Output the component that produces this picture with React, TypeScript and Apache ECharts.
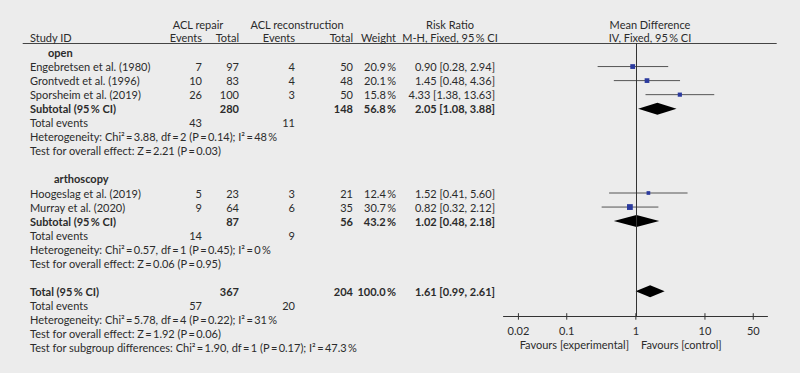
import React, { useEffect, useRef } from "react";
import * as echarts from "echarts";

// ---------- data ----------
const studyNames = [
  "Engebretsen et al. (1980)",
  "Grontvedt et al. (1996)",
  "Sporsheim et al. (2019)",
  "Hoogeslag et al. (2019)",
  "Murray et al. (2020)",
];
const studyRows = [1, 2, 3, 10, 11];
const repairEvents = [7, 10, 26, 5, 9];
const repairTotal = [97, 83, 100, 23, 64];
const reconEvents = [4, 4, 3, 3, 6];
const reconTotal = [50, 48, 50, 21, 35];
const weights = [20.9, 20.1, 15.8, 12.4, 30.7];
const rr = [0.9, 1.45, 4.33, 1.52, 0.82];
const rrLo = [0.28, 0.48, 1.38, 0.41, 0.32];
const rrHi = [2.94, 4.36, 13.63, 5.6, 2.12];

const groupNames = ["open", "arthoscopy"];
const groupRows = [0, 9];
const subRows = [4, 12];
const subRepairTotal = [280, 87];
const subReconTotal = [148, 56];
const subRepairEvents = [43, 14];
const subReconEvents = [11, 9];
const subWeight = [56.8, 43.2];
const subRR = [2.05, 1.02];
const subLo = [1.08, 0.48];
const subHi = [3.88, 2.18];
const E = "\u2009=\u2009";
const subHet = [
  `Heterogeneity: Chi²${E}3.88, df${E}2 (P${E}0.14); I²${E}48\u2009%`,
  `Heterogeneity: Chi²${E}0.57, df${E}1 (P${E}0.45); I²${E}0\u2009%`,
];
const subEffect = [
  `Test for overall effect: Z${E}2.21 (P${E}0.03)`,
  `Test for overall effect: Z${E}0.06 (P${E}0.95)`,
];

const totalRow = 17;
const totalRepair = 367;
const totalRecon = 204;
const totalRepairEvents = 57;
const totalReconEvents = 20;
const totalWeight = 100.0;
const totalRR = 1.61;
const totalLo = 0.99;
const totalHi = 2.61;
const totalNotes = [
  `Heterogeneity: Chi²${E}5.78, df${E}4 (P${E}0.22); I²${E}31\u2009%`,
  `Test for overall effect: Z${E}1.92 (P${E}0.06)`,
  `Test for subgroup differences: Chi²${E}1.90, df${E}1 (P${E}0.17); I²${E}47.3\u2009%`,
];

const tickValues = [0.02, 0.1, 1, 10, 50];
const tickLabels = ["0.02", "0.1", "1", "10", "50"];

// ---------- layout ----------
const FONT = "Lato, 'Liberation Sans', sans-serif";
const FS = 11;
const TXT = "#2b2b2b";
const ROW0 = 52.5;
const ROWH = 14.05;
const rowAt = (px: number) => (px - ROW0) / ROWH;
const HEAD1 = rowAt(24);
const HEAD2 = rowAt(37);

const col = {
  study: 30,
  group: [48, 54],
  repEv: 202,
  repTot: 239,
  recEv: 295,
  recTot: 353,
  weight: 396,
  rr: 495,
  rrHead: 450,
  mdHead: 650,
};

type Cell = { x: number; r: number; t: string; align: string; bold?: boolean };
const pct = (w: number) => `${w.toFixed(1)}\u2009%`;
const ci = (a: number, b: number, c: number) =>
  `${a.toFixed(2)} [${b.toFixed(2)}, ${c.toFixed(2)}]`;

const cells: Cell[] = [];
cells.push({ x: 198, r: HEAD1, t: "ACL repair", align: "center" });
cells.push({ x: 297, r: HEAD1, t: "ACL reconstruction", align: "center" });
cells.push({ x: col.rrHead, r: HEAD1, t: "Risk Ratio", align: "center" });
cells.push({ x: col.mdHead, r: HEAD1, t: "Mean Difference", align: "center" });
cells.push({ x: col.study, r: HEAD2, t: "Study ID", align: "left" });
cells.push({ x: col.repEv, r: HEAD2, t: "Events", align: "right" });
cells.push({ x: col.repTot, r: HEAD2, t: "Total", align: "right" });
cells.push({ x: col.recEv, r: HEAD2, t: "Events", align: "right" });
cells.push({ x: col.recTot, r: HEAD2, t: "Total", align: "right" });
cells.push({ x: col.weight, r: HEAD2, t: "Weight", align: "right" });
cells.push({ x: col.rrHead, r: HEAD2, t: "M-H, Fixed, 95\u2009% CI", align: "center" });
cells.push({ x: col.mdHead, r: HEAD2, t: "IV, Fixed, 95\u2009% CI", align: "center" });

studyNames.forEach((n, i) => {
  const r = studyRows[i];
  cells.push({ x: col.study, r, t: n, align: "left" });
  cells.push({ x: col.repEv, r, t: String(repairEvents[i]), align: "right" });
  cells.push({ x: col.repTot, r, t: String(repairTotal[i]), align: "right" });
  cells.push({ x: col.recEv, r, t: String(reconEvents[i]), align: "right" });
  cells.push({ x: col.recTot, r, t: String(reconTotal[i]), align: "right" });
  cells.push({ x: col.weight, r, t: pct(weights[i]), align: "right" });
  cells.push({ x: col.rr, r, t: ci(rr[i], rrLo[i], rrHi[i]), align: "right" });
});

groupNames.forEach((g, i) => {
  const r = subRows[i];
  cells.push({ x: col.group[i], r: groupRows[i], t: g, align: "left", bold: true });
  cells.push({ x: col.study, r, t: "Subtotal (95\u2009% CI)", align: "left", bold: true });
  cells.push({ x: col.repTot, r, t: String(subRepairTotal[i]), align: "right", bold: true });
  cells.push({ x: col.recTot, r, t: String(subReconTotal[i]), align: "right", bold: true });
  cells.push({ x: col.weight, r, t: pct(subWeight[i]), align: "right", bold: true });
  cells.push({ x: col.rr, r, t: ci(subRR[i], subLo[i], subHi[i]), align: "right", bold: true });
  cells.push({ x: col.study, r: r + 1, t: "Total events", align: "left" });
  cells.push({ x: col.repEv, r: r + 1, t: String(subRepairEvents[i]), align: "right" });
  cells.push({ x: col.recEv, r: r + 1, t: String(subReconEvents[i]), align: "right" });
  cells.push({ x: col.study, r: r + 2, t: subHet[i], align: "left" });
  cells.push({ x: col.study, r: r + 3, t: subEffect[i], align: "left" });
});

cells.push({ x: col.study, r: totalRow, t: "Total (95\u2009% CI)", align: "left", bold: true });
cells.push({ x: col.repTot, r: totalRow, t: String(totalRepair), align: "right", bold: true });
cells.push({ x: col.recTot, r: totalRow, t: String(totalRecon), align: "right", bold: true });
cells.push({ x: col.weight, r: totalRow, t: pct(totalWeight), align: "right", bold: true });
cells.push({ x: col.rr, r: totalRow, t: ci(totalRR, totalLo, totalHi), align: "right", bold: true });
cells.push({ x: col.study, r: totalRow + 1, t: "Total events", align: "left" });
cells.push({ x: col.repEv, r: totalRow + 1, t: String(totalRepairEvents), align: "right" });
cells.push({ x: col.recEv, r: totalRow + 1, t: String(totalReconEvents), align: "right" });
totalNotes.forEach((n, i) =>
  cells.push({ x: col.study, r: totalRow + 2 + i, t: n, align: "left" })
);

const forestTop = 43;
const forestBottom = 316.7;
const yMinB = rowAt(forestTop);
const yMaxB = rowAt(forestBottom);
const log = (v: number) => Math.log10(v);
const tickLogs = tickValues.map(log);

const font = (bold?: boolean) => `${bold ? "bold " : ""}${FS}px ${FONT}`;

const option: any = {
  animation: false,
  backgroundColor: "#ececec",
  grid: [
    { left: 0, top: 0, width: 800, height: 373 },
    { left: 503.5, top: forestTop, width: 264, height: forestBottom - forestTop },
  ],
  xAxis: [
    { gridIndex: 0, type: "value", min: 0, max: 800, show: false },
    {
      gridIndex: 1,
      type: "value",
      min: -1.915,
      max: 1.905,
      axisLine: { show: true, onZero: false, lineStyle: { color: "#333", width: 1 } },
      axisTick: { show: false },
      splitLine: { show: false },
      axisLabel: {
        customValues: tickLogs,
        margin: 8,
        color: TXT,
        fontFamily: FONT,
        fontSize: FS,
        formatter: (v: number) => {
          const i = tickLogs.findIndex((t) => Math.abs(t - v) < 1e-6);
          return i >= 0 ? tickLabels[i] : "";
        },
      },
    },
  ],
  yAxis: [
    { gridIndex: 0, type: "value", inverse: true, min: rowAt(0), max: rowAt(373), show: false },
    { gridIndex: 1, type: "value", inverse: true, min: yMinB, max: yMaxB, show: false },
  ],
  graphic: [
    {
      type: "line",
      shape: { x1: 22.7, y1: 43.5, x2: 776.7, y2: 43.5 },
      style: { stroke: "#444", lineWidth: 1 },
    },
    {
      type: "text",
      x: 629,
      y: 344.3,
      style: {
        text: "Favours [experimental]",
        font: font(),
        fill: TXT,
        align: "right",
        textAlign: "right",
        verticalAlign: "middle",
        textVerticalAlign: "middle",
      },
    },
    {
      type: "text",
      x: 641,
      y: 344.3,
      style: {
        text: "Favours [control]",
        font: font(),
        fill: TXT,
        align: "left",
        textAlign: "left",
        verticalAlign: "middle",
        textVerticalAlign: "middle",
      },
    },
  ],
  series: [
    {
      type: "custom",
      name: "table",
      xAxisIndex: 0,
      yAxisIndex: 0,
      silent: true,
      data: cells.map((c) => [c.x, c.r]),
      renderItem: (params: any, api: any) => {
        const c = cells[params.dataIndex];
        const p = api.coord([api.value(0), api.value(1)]);
        return {
          type: "text",
          x: p[0],
          y: p[1],
          style: {
            text: c.t,
            font: font(c.bold),
            fill: TXT,
            align: c.align,
            textAlign: c.align,
            verticalAlign: "middle",
            textVerticalAlign: "middle",
          },
        };
      },
    },
    {
      type: "custom",
      name: "studies",
      xAxisIndex: 1,
      yAxisIndex: 1,
      silent: true,
      clip: false,
      data: studyNames.map((_, i) => [log(rr[i]), studyRows[i], log(rrLo[i]), log(rrHi[i]), weights[i]]),
      renderItem: (params: any, api: any) => {
        const y = api.value(1);
        const c = api.coord([api.value(0), y]);
        const l = api.coord([api.value(2), y]);
        const h = api.coord([api.value(3), y]);
        const s = Math.sqrt(api.value(4)) * 1.05;
        return {
          type: "group",
          children: [
            {
              type: "line",
              shape: { x1: l[0], y1: c[1], x2: h[0], y2: c[1] },
              style: { stroke: "#555", lineWidth: 1 },
            },
            {
              type: "rect",
              shape: { x: c[0] - s / 2, y: c[1] - s / 2, width: s, height: s },
              style: { fill: "#2b3a9e" },
            },
          ],
        };
      },
      markLine: {
        silent: true,
        symbol: ["none", "none"],
        label: { show: false },
        lineStyle: { color: "#333", width: 1, type: "solid" },
        data: [{ xAxis: 0 }],
      },
    },
    {
      type: "custom",
      name: "pooled",
      xAxisIndex: 1,
      yAxisIndex: 1,
      silent: true,
      clip: false,
      data: [
        [log(subRR[0]), subRows[0], log(subLo[0]), log(subHi[0])],
        [log(subRR[1]), subRows[1], log(subLo[1]), log(subHi[1])],
        [log(totalRR), totalRow, log(totalLo), log(totalHi)],
      ],
      renderItem: (params: any, api: any) => {
        const y = api.value(1);
        const c = api.coord([api.value(0), y]);
        const l = api.coord([api.value(2), y]);
        const h = api.coord([api.value(3), y]);
        const hh = 6;
        return {
          type: "polygon",
          shape: {
            points: [
              [l[0], c[1]],
              [c[0], c[1] - hh],
              [h[0], c[1]],
              [c[0], c[1] + hh],
            ],
          },
          style: { fill: "#000" },
        };
      },
    },
    {
      type: "custom",
      name: "ticks",
      xAxisIndex: 1,
      yAxisIndex: 1,
      silent: true,
      clip: false,
      data: tickLogs.map((t) => [t, yMaxB]),
      renderItem: (params: any, api: any) => {
        const p = api.coord([api.value(0), api.value(1)]);
        return {
          type: "line",
          shape: { x1: p[0], y1: p[1] - 3.5, x2: p[0], y2: p[1] + 3 },
          style: { stroke: "#333", lineWidth: 1 },
        };
      },
    },
  ],
};

export default function App() {
  const ref = useRef<HTMLDivElement>(null);
  useEffect(() => {
    const chart = echarts.init(ref.current!, null, { renderer: "svg" });
    chart.setOption(option);
    return () => chart.dispose();
  }, []);
  return (
    <div
      ref={ref}
      style={{ position: "fixed", left: 0, top: 0, width: 800, height: 373 }}
    />
  );
}
